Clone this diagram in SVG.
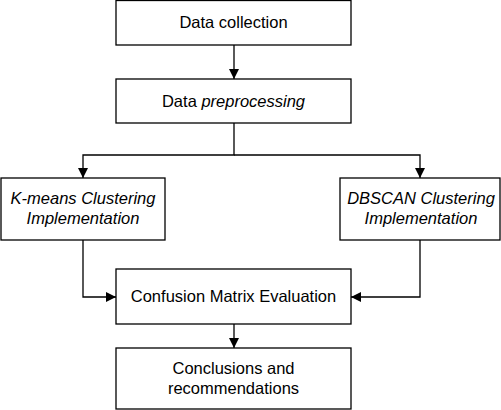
<svg xmlns="http://www.w3.org/2000/svg" width="501" height="410" viewBox="0 0 501 410">
<style>
.box{fill:#fff;stroke:#000;stroke-width:1.3}
.t{font-family:"Liberation Sans",Arial,sans-serif;font-size:16.5px;fill:#000;text-anchor:middle}
.i{font-style:italic}
.c{fill:none;stroke:#000;stroke-width:1.3}
</style>
<defs>
<marker id="a" viewBox="0 0 10 10" refX="10" refY="5" markerWidth="10" markerHeight="10" markerUnits="userSpaceOnUse" orient="auto">
<path d="M0,0 L10,5 L0,10 z" fill="#000"/>
</marker>
</defs>
<rect width="501" height="410" fill="#fff"/>
<g id="connectors">
<path class="c" d="M234,45 V79" marker-end="url(#a)"/>
<path class="c" d="M234,123 V155 H83 V178" marker-end="url(#a)"/>
<path class="c" d="M234,155 H420 V178" marker-end="url(#a)"/>
<path class="c" d="M83,240 V297 H116" marker-end="url(#a)"/>
<path class="c" d="M420,240 V297 H351" marker-end="url(#a)"/>
<path class="c" d="M234,324 V348" marker-end="url(#a)"/>
</g>
<g id="n1"><rect class="box" x="116" y="0.5" width="235" height="44.5"/><text class="t" x="233.5" y="28">Data collection</text></g>
<g id="n2"><rect class="box" x="116" y="79" width="235" height="44"/><text class="t" x="233.5" y="107">Data <tspan class="i">preprocessing</tspan></text></g>
<g id="n3"><rect class="box" x="1" y="178" width="164" height="62"/><text class="t i" x="83" y="204">K-means Clustering</text><text class="t i" x="83" y="224">Implementation</text></g>
<g id="n4"><rect class="box" x="340" y="178" width="160" height="62"/><text class="t i" x="421" y="204">DBSCAN Clustering</text><text class="t i" x="421" y="224">Implementation</text></g>
<g id="n5"><rect class="box" x="116" y="269" width="235" height="55"/><text class="t" x="233.5" y="302">Confusion Matrix Evaluation</text></g>
<g id="n6"><rect class="box" x="116" y="348" width="235" height="61"/><text class="t" x="233.5" y="374">Conclusions and</text><text class="t" x="233.5" y="394">recommendations</text></g>
</svg>
